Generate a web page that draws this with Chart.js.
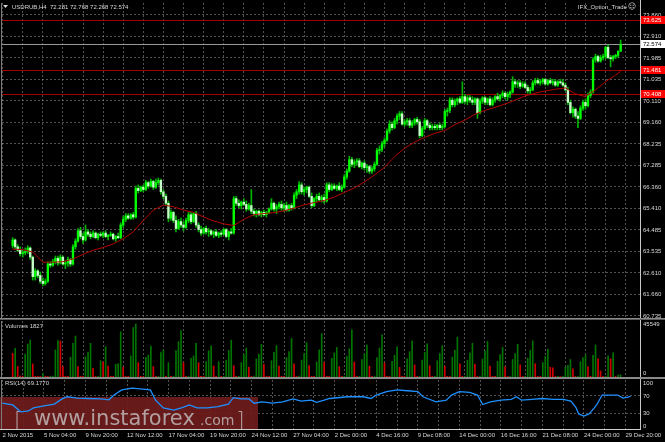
<!DOCTYPE html>
<html>
<head>
<meta charset="utf-8">
<script src="https://cdn.jsdelivr.net/npm/chart.js@4.4.1/dist/chart.umd.min.js"></script>
<style>
  html, body { margin: 0; padding: 0; background: #000; }
  #chart { position: relative; width: 665px; height: 442px; background: #000; overflow: hidden; }
  #chart canvas { position: absolute; left: 0; }
</style>
</head>
<body>
<div id="chart">
  <canvas id="priceCanvas" width="665" height="320" style="top:0px"></canvas>
  <canvas id="volCanvas" width="665" height="59" style="top:320px"></canvas>
  <canvas id="rsiCanvas" width="665" height="63" style="top:379px"></canvas>
</div>
<script>
/* --------------- Data -------------------------------------------- */
const symbol = "USDRUB,H4";
const timeLabels = ["2 Nov 2015", "5 Nov 04:00", "9 Nov 20:00", "12 Nov 12:00", "17 Nov 04:00",
  "19 Nov 20:00", "24 Nov 12:00", "27 Nov 04:00", "2 Dec 00:00", "4 Dec 16:00", "9 Dec 08:00",
  "14 Dec 00:00", "16 Dec 16:00", "21 Dec 08:00", "24 Dec 00:00", "29 Dec 20:00"];

const opens = [
  63.80, 64.05, 63.75, 63.60, 63.45, 63.50, 63.55, 63.70, 63.30, 62.45, 62.70, 62.50,
  62.25, 62.15, 62.25, 63.00, 62.95, 63.10, 63.25, 63.05, 63.30, 63.00, 63.05, 63.20,
  63.00, 63.75, 64.00, 64.45, 64.20, 64.05, 64.40, 64.30, 64.20, 64.35, 64.15, 64.30,
  64.25, 64.35, 64.20, 64.25, 64.30, 64.10, 64.20, 64.15, 64.70, 64.95, 65.10, 65.00,
  65.15, 65.05, 66.30, 66.20, 66.35, 66.25, 66.55, 66.40, 66.60, 66.35, 66.55, 66.65,
  66.15, 65.95, 65.65, 65.00, 65.25, 64.90, 64.55, 64.85, 64.70, 64.60, 64.90, 65.15,
  64.85, 65.20, 64.70, 64.50, 64.35, 64.55, 64.40, 64.45, 64.30, 64.40, 64.25, 64.35,
  64.30, 64.50, 64.20, 64.40, 64.35, 65.85, 65.65, 65.55, 65.70, 65.60, 65.40, 65.55,
  65.30, 65.20, 65.30, 65.15, 65.25, 65.15, 65.25, 65.40, 65.65, 65.40, 65.50, 65.60,
  65.45, 65.55, 65.35, 65.55, 65.45, 66.00, 66.15, 66.45, 66.15, 66.25, 66.35, 65.95,
  65.55, 65.85, 65.95, 65.80, 65.90, 65.75, 66.45, 66.25, 66.40, 66.30, 66.40, 66.25,
  66.35, 66.80, 67.05, 67.55, 67.35, 67.45, 67.50, 67.25, 67.40, 67.20, 67.25, 67.05,
  67.15, 67.35, 67.95, 68.00, 68.25, 68.40, 68.80, 69.10, 68.95, 69.25, 69.45, 69.55,
  69.10, 69.20, 69.25, 69.05, 69.15, 69.30, 69.20, 68.60, 68.90, 69.25, 69.05, 68.95,
  69.00, 68.95, 69.05, 68.95, 69.00, 69.65, 69.70, 70.15, 69.95, 70.10, 70.20, 70.05,
  70.30, 70.10, 70.25, 70.15, 70.05, 70.20, 69.60, 70.10, 70.25, 70.05, 70.20, 69.95,
  70.15, 70.30, 70.20, 70.35, 70.45, 70.30, 70.40, 70.50, 70.95, 70.85, 70.90, 70.75,
  70.85, 70.70, 70.55, 70.60, 70.90, 71.00, 70.90, 70.95, 71.05, 70.85, 71.00, 70.90,
  70.95, 70.80, 70.95, 70.90, 70.80, 70.60, 70.05, 69.60, 69.75, 69.45, 69.35, 69.80,
  70.05, 69.90, 70.35, 70.50, 71.90, 72.05, 71.85, 72.00, 72.05, 72.45, 72.00, 71.95,
  72.05, 72.10, 72.281];
const highs = [
  64.15, 64.10, 63.85, 63.75, 63.60, 63.70, 63.80, 63.75, 63.35, 62.80, 62.75, 62.65,
  62.40, 62.35, 63.10, 63.10, 63.20, 63.35, 63.35, 63.40, 63.35, 63.15, 63.30, 63.25,
  63.85, 64.10, 64.55, 64.60, 64.35, 64.70, 64.50, 64.40, 64.45, 64.40, 64.35, 64.40,
  64.40, 64.45, 64.30, 64.40, 64.35, 64.25, 64.35, 64.80, 65.10, 65.20, 65.20, 65.20,
  65.25, 66.40, 66.45, 66.40, 66.45, 66.65, 66.60, 66.70, 66.65, 66.70, 66.75, 66.70,
  66.25, 66.05, 65.75, 65.35, 65.30, 65.10, 64.95, 65.00, 64.85, 65.00, 65.25, 65.25,
  65.25, 65.30, 64.80, 64.65, 64.60, 64.65, 64.55, 64.50, 64.45, 64.50, 64.40, 64.45,
  64.55, 64.55, 64.45, 64.55, 65.95, 65.95, 65.80, 65.75, 65.85, 65.75, 65.65, 66.25,
  65.40, 65.35, 65.35, 65.30, 65.35, 65.30, 65.45, 65.85, 65.70, 65.60, 65.70, 65.75,
  65.65, 65.70, 65.60, 65.65, 66.10, 66.25, 66.60, 66.55, 66.35, 66.40, 66.40, 66.10,
  65.90, 66.05, 66.10, 66.00, 66.05, 66.55, 66.55, 66.50, 66.50, 66.45, 66.55, 66.45,
  66.90, 67.15, 67.70, 67.65, 67.55, 67.60, 67.60, 67.45, 67.50, 67.35, 67.30, 67.25,
  67.45, 68.05, 68.15, 68.35, 68.50, 68.90, 69.25, 69.20, 69.35, 69.55, 69.65, 69.65,
  69.30, 69.35, 69.35, 69.25, 69.35, 69.40, 69.30, 69.00, 69.35, 69.30, 69.15, 69.10,
  69.10, 69.10, 69.15, 69.10, 69.75, 69.80, 70.25, 70.25, 70.20, 70.25, 70.30, 70.95,
  70.40, 70.35, 70.35, 70.30, 70.25, 70.25, 70.20, 70.30, 70.30, 70.25, 70.30, 70.25,
  70.35, 70.45, 70.40, 70.55, 70.50, 70.50, 70.55, 71.17, 71.05, 71.00, 71.00, 70.95,
  70.95, 70.80, 70.70, 71.00, 71.10, 71.10, 71.05, 71.10, 71.10, 71.05, 71.10, 71.05,
  71.05, 71.00, 71.05, 71.05, 70.90, 70.70, 70.15, 69.85, 69.80, 69.65, 69.90, 70.15,
  70.20, 70.45, 70.60, 72.00, 72.15, 72.10, 72.10, 72.15, 72.50, 72.55, 72.10, 72.10,
  72.15, 72.30, 72.768];
const lows = [
  63.70, 63.65, 63.55, 63.35, 63.30, 63.40, 63.45, 63.20, 62.30, 62.30, 62.40, 62.15,
  62.05, 62.08, 62.20, 62.85, 62.90, 63.00, 62.95, 63.00, 62.95, 62.80, 62.90, 62.90,
  62.95, 63.65, 63.95, 64.10, 63.90, 64.00, 64.20, 64.10, 64.15, 64.10, 64.05, 64.20,
  64.15, 64.15, 64.05, 64.20, 64.05, 64.00, 64.10, 64.10, 64.60, 64.85, 64.95, 64.95,
  64.95, 65.00, 66.10, 66.15, 66.15, 66.20, 66.30, 66.35, 66.25, 66.30, 66.45, 66.05,
  65.85, 65.55, 64.85, 64.90, 64.80, 64.40, 64.50, 64.60, 64.45, 64.55, 64.80, 64.75,
  64.80, 64.60, 64.40, 64.25, 64.30, 64.30, 64.20, 64.25, 64.15, 64.20, 64.15, 64.20,
  64.25, 64.15, 64.05, 64.30, 64.30, 65.55, 65.45, 65.40, 65.55, 65.30, 65.35, 65.20,
  65.10, 65.05, 65.10, 65.05, 65.10, 65.05, 65.20, 65.35, 65.30, 65.20, 65.40, 65.35,
  65.30, 65.30, 65.30, 65.35, 65.40, 65.85, 66.05, 66.05, 66.00, 66.10, 65.90, 65.45,
  65.50, 65.70, 65.75, 65.70, 65.65, 65.70, 66.15, 66.20, 66.25, 66.20, 66.20, 66.15,
  66.30, 66.70, 67.00, 67.25, 67.20, 67.30, 67.20, 67.15, 67.10, 67.00, 66.95, 66.95,
  67.05, 67.30, 67.80, 67.90, 68.10, 68.35, 68.70, 68.85, 68.90, 69.10, 69.30, 69.05,
  69.00, 69.05, 68.95, 68.95, 69.05, 69.10, 68.50, 68.55, 68.85, 68.95, 68.85, 68.85,
  68.85, 68.85, 68.85, 68.85, 68.95, 69.45, 69.60, 69.85, 69.85, 69.95, 70.00, 70.00,
  70.00, 69.95, 70.05, 69.95, 69.95, 69.35, 69.55, 70.00, 69.95, 69.95, 69.90, 69.90,
  70.05, 70.15, 70.10, 70.25, 70.20, 70.15, 70.25, 70.45, 70.70, 70.70, 70.65, 70.70,
  70.65, 70.45, 70.40, 70.55, 70.80, 70.85, 70.80, 70.85, 70.80, 70.80, 70.85, 70.80,
  70.75, 70.75, 70.85, 70.75, 70.55, 69.95, 69.55, 69.40, 69.35, 68.95, 69.30, 69.70,
  69.75, 69.85, 70.25, 70.45, 71.80, 71.80, 71.80, 71.90, 71.95, 71.95, 71.60, 71.85,
  71.95, 72.00, 72.268];
const closes = [
  64.05, 63.75, 63.60, 63.45, 63.50, 63.55, 63.70, 63.30, 62.45, 62.70, 62.50, 62.25,
  62.15, 62.25, 63.00, 62.95, 63.10, 63.25, 63.05, 63.30, 63.00, 63.05, 63.20, 63.00,
  63.75, 64.00, 64.45, 64.20, 64.05, 64.40, 64.30, 64.20, 64.35, 64.15, 64.30, 64.25,
  64.35, 64.20, 64.25, 64.30, 64.10, 64.20, 64.15, 64.70, 64.95, 65.10, 65.00, 65.15,
  65.05, 66.30, 66.20, 66.35, 66.25, 66.55, 66.40, 66.60, 66.35, 66.55, 66.65, 66.15,
  65.95, 65.65, 65.00, 65.25, 64.90, 64.55, 64.85, 64.70, 64.60, 64.90, 65.15, 64.85,
  65.20, 64.70, 64.50, 64.35, 64.55, 64.40, 64.45, 64.30, 64.40, 64.25, 64.35, 64.30,
  64.50, 64.20, 64.40, 64.35, 65.85, 65.65, 65.55, 65.70, 65.60, 65.40, 65.55, 65.30,
  65.20, 65.30, 65.15, 65.25, 65.15, 65.25, 65.40, 65.65, 65.40, 65.50, 65.60, 65.45,
  65.55, 65.35, 65.55, 65.45, 66.00, 66.15, 66.45, 66.15, 66.25, 66.35, 65.95, 65.55,
  65.85, 65.95, 65.80, 65.90, 65.75, 66.45, 66.25, 66.40, 66.30, 66.40, 66.25, 66.35,
  66.80, 67.05, 67.55, 67.35, 67.45, 67.50, 67.25, 67.40, 67.20, 67.25, 67.05, 67.15,
  67.35, 67.95, 68.00, 68.25, 68.40, 68.80, 69.10, 68.95, 69.25, 69.45, 69.55, 69.10,
  69.20, 69.25, 69.05, 69.15, 69.30, 69.20, 68.60, 68.90, 69.25, 69.05, 68.95, 69.00,
  68.95, 69.05, 68.95, 69.00, 69.65, 69.70, 70.15, 69.95, 70.10, 70.20, 70.05, 70.30,
  70.10, 70.25, 70.15, 70.05, 70.20, 69.60, 70.10, 70.25, 70.05, 70.20, 69.95, 70.15,
  70.30, 70.20, 70.35, 70.45, 70.30, 70.40, 70.50, 70.95, 70.85, 70.90, 70.75, 70.85,
  70.70, 70.55, 70.60, 70.90, 71.00, 70.90, 70.95, 71.05, 70.85, 71.00, 70.90, 70.95,
  70.80, 70.95, 70.90, 70.80, 70.60, 70.05, 69.60, 69.75, 69.45, 69.35, 69.80, 70.05,
  69.90, 70.35, 70.50, 71.90, 72.05, 71.85, 72.00, 72.05, 72.45, 72.00, 71.95, 72.05,
  72.10, 72.28, 72.574];

const volumes = [
  19600, 23700, 8600, 900, 700, 19000, 27300, 30600, 10800, 600, 500, 400,
  3000, 700, 500, 600, 800, 22400, 30100, 29800, 8600, 600, 500, 16300,
  27900, 34000, 8600, 700, 600, 16800, 20700, 27900, 7200, 500, 600, 13500,
  12400, 25100, 9100, 600, 500, 10500, 11000, 37500, 8000, 600, 500, 17400,
  40900, 43900, 11900, 600, 500, 16300, 18200, 25700, 8600, 500, 600, 20200,
  22400, 600, 11900, 500, 700, 21800, 29300, 38400, 11900, 500, 600, 15500,
  17400, 27900, 11900, 600, 500, 12700, 21800, 25900, 9100, 600, 12700, 500,
  600, 14000, 22000, 30500, 9500, 500, 600, 12000, 18500, 24000, 8000, 500,
  700, 15000, 19000, 27000, 10500, 600, 500, 13500, 20500, 26000, 9000, 600,
  500, 16000, 21000, 32000, 11000, 500, 700, 14000, 19500, 28500, 9500, 600,
  500, 12500, 22500, 36000, 12000, 600, 500, 15500, 20000, 24500, 8500, 500,
  600, 17000, 23500, 39000, 12500, 500, 600, 14500, 19000, 26500, 9000, 500,
  700, 16000, 24000, 35000, 11500, 600, 500, 13000, 18000, 25000, 8000, 600,
  500, 15000, 21000, 30000, 10000, 500, 600, 14000, 20500, 27500, 9500, 500,
  600, 13500, 19500, 26000, 9000, 600, 500, 16500, 22000, 33000, 11000, 500,
  600, 14000, 20000, 28000, 10500, 500, 700, 15000, 21500, 29500, 9000, 600,
  500, 13000, 18500, 24500, 8500, 500, 600, 14500, 19500, 27000, 10000, 500,
  600, 15500, 22000, 30000, 11000, 600, 500, 12000, 17000, 23000, 8000, 7500,
  500, 600, 400, 500, 8000, 9700, 14500, 6800, 500, 600, 12700, 16000,
  18000, 8500, 600, 18000, 26500, 15000, 5000, 500, 600, 17500, 15000, 20000,
  600, 1500, 1827];

const maBars = [0, 4, 8, 12, 16, 20, 24, 28, 32, 36, 40, 44, 48, 52, 56, 60, 64, 68, 72, 76,
  80, 84, 88, 92, 96, 100, 104, 108, 112, 116, 120, 124, 128, 132, 136, 140, 144, 148, 152,
  156, 160, 164, 168, 172, 176, 180, 184, 188, 192, 196, 200, 204, 208, 212, 216, 220, 224,
  228, 232, 236, 240, 242];
const maValues = [63.65, 63.63, 63.52, 63.08, 63.08, 63.10, 63.22, 63.42, 63.60, 63.72, 63.88,
  64.10, 64.40, 64.90, 65.35, 65.57, 65.50, 65.35, 65.25, 65.05, 64.88, 64.75, 64.68, 64.95,
  65.15, 65.20, 65.24, 65.32, 65.44, 65.58, 65.68, 65.77, 65.92, 66.12, 66.32, 66.58, 66.88,
  67.22, 67.68, 68.05, 68.32, 68.52, 68.70, 68.82, 69.08, 69.28, 69.53, 69.70, 69.83, 69.98,
  70.15, 70.33, 70.45, 70.55, 70.62, 70.68, 70.42, 70.30, 70.60, 70.95, 71.24, 71.40];

const rsiBars = [0, 4, 7, 10, 12, 16, 20, 23, 25, 29, 33, 38, 41, 43, 46, 50, 54, 57, 59, 62,
  66, 69, 72, 75, 79, 83, 87, 89, 92, 95, 97, 100, 104, 108, 112, 115, 119, 121, 124, 126,
  133, 139, 142, 144, 148, 152, 156, 160, 162, 167, 171, 173, 176, 180, 183, 185, 188, 192,
  196, 198, 200, 204, 208, 212, 216, 219, 221, 222, 224, 226, 228, 229, 231, 234, 237, 239,
  241, 242];
const rsiValues = [53, 49, 33, 35, 42, 47, 51, 63, 68, 65, 64, 63, 61, 72, 84, 88, 86, 84, 60,
  42, 37, 42, 49, 42, 42, 45, 51, 66, 63, 63, 53, 56, 53, 56, 63, 58, 60, 55, 60, 64, 68, 68,
  64, 72, 80, 84, 82, 80, 68, 56, 60, 72, 80, 78, 72, 50, 56, 60, 62, 68, 60, 62, 64, 62, 62,
  58, 42, 28, 23, 28, 42, 50, 72, 72, 72, 65, 67, 69.177];

const priceTicks = [60.735, 61.660, 62.610, 63.535, 64.485, 65.410, 66.360, 67.285, 68.235,
  69.160, 70.110, 71.035, 71.985, 72.910, 73.860];
const levelLines = [73.625, 71.481, 70.408];
const volumeScaleMax = 45549;
const rsiTicks = [0, 30, 70, 100];
const rsiLevels = [30, 70];

/* --------------- Look --------------------- */
const TXT = "#d8d8d8";
const GRID = "rgba(150,150,150,0.55)";
const FONT = { family: "'Liberation Sans', Arial, sans-serif", size: 6 };
const FONT_CSS = "6px 'Liberation Sans', Arial, sans-serif";
const CANDLE = "#00ff00";
const WICK = "#00b400";
const BEAR_BODY = "#c8ffc8";
const MA_RED = "#b40000";
const LEVEL_RED = "#a00000";
const X_MIN = -0.15, X_MAX = 245.6;

const barIndex = closes.map((_, i) => i);
const gridBars = [];
for (let b = 0; b <= 240; b += 8) gridBars.push(b);

const xAxis = (showLabels) => ({
  type: "linear",
  min: X_MIN,
  max: X_MAX,
  position: "bottom",
  afterBuildTicks: (s) => { s.ticks = gridBars.map((v) => ({ value: v })); },
  afterFit: (s) => { s.height = showLabels ? 13 : 0; s.paddingLeft = 0; s.paddingRight = 0; },
  grid: { color: GRID, lineWidth: 1, drawTicks: false },
  border: { display: false, dash: [2, 2] },
  ticks: {
    display: showLabels, autoSkip: false, maxRotation: 0, align: "start", padding: 3,
    color: TXT, font: FONT,
    callback: (v) => (v % 16 === 0 ? timeLabels[v / 16] : ""),
  },
});

const drawFrame = (ctx, a, topLine, bottomLine) => {
  ctx.save();
  ctx.lineWidth = 1;
  ctx.strokeStyle = "#7a7a7a";
  ctx.beginPath();
  ctx.moveTo(1.5, a.top); ctx.lineTo(1.5, a.bottom);
  ctx.stroke();
  ctx.strokeStyle = "#c8c8c8";
  ctx.beginPath();
  ctx.moveTo(a.right + 0.5, topLine); ctx.lineTo(a.right + 0.5, bottomLine);
  ctx.stroke();
  ctx.restore();
};

/* --------------- Price Chart --------------------- */
const priceOverlay = {
  id: "priceOverlay",
  beforeDatasetsDraw(chart) {
    const { ctx, chartArea: a, scales: { y } } = chart;
    ctx.save();
    ctx.lineWidth = 1;
    ctx.strokeStyle = LEVEL_RED;
    levelLines.forEach((v) => {
      const py = Math.round(y.getPixelForValue(v)) + 0.5;
      ctx.beginPath(); ctx.moveTo(a.left, py); ctx.lineTo(a.right, py); ctx.stroke();
    });
    const by = Math.round(y.getPixelForValue(closes[closes.length - 1])) + 0.5;
    ctx.strokeStyle = "#9a9a9a";
    ctx.beginPath(); ctx.moveTo(a.left, by); ctx.lineTo(a.right, by); ctx.stroke();
    ctx.restore();
  },
  afterDraw(chart) {
    const { ctx, chartArea: a, scales: { y } } = chart;
    const last = closes.length - 1;
    ctx.save();
    ctx.font = FONT_CSS;
    ctx.textBaseline = "middle";
    levelLines.forEach((v) => {
      const py = Math.round(y.getPixelForValue(v));
      ctx.fillStyle = "#ff0000";
      ctx.fillRect(a.right + 1, py - 4, 24, 8);
      ctx.fillStyle = "#ffffff";
      ctx.fillText(v.toFixed(3), a.right + 3, py);
    });
    const by = Math.round(y.getPixelForValue(closes[last]));
    ctx.fillStyle = "#ffffff";
    ctx.fillRect(a.right + 1, by - 4, 24, 8);
    ctx.fillStyle = "#000000";
    ctx.fillText(closes[last].toFixed(3), a.right + 3, by);

    // header
    ctx.fillStyle = TXT;
    ctx.beginPath();
    ctx.moveTo(3, 5); ctx.lineTo(8, 5); ctx.lineTo(5.5, 8); ctx.closePath();
    ctx.fill();
    ctx.fillText(symbol + "  " + [opens[last], highs[last], lows[last], closes[last]]
      .map((v) => v.toFixed(3)).join(" "), 12, 7);
    ctx.textAlign = "right";
    ctx.fillText("IFX_Option_Trade", 627, 7);
    ctx.font = "8px 'DejaVu Sans'";
    ctx.textAlign = "left";
    ctx.fillText("\u263A", 628, 7);
    ctx.restore();

    drawFrame(ctx, a, 0, 320);
    ctx.save();
    ctx.fillStyle = "#8a8a8a";
    ctx.fillRect(0, 318, 665, 1);
    ctx.fillStyle = "#5a5a5a";
    ctx.fillRect(0, 319, 665, 1);
    ctx.restore();
  },
};

new Chart(document.getElementById("priceCanvas"), {
  type: "bar",
  plugins: [priceOverlay],
  data: {
    datasets: [
      {
        label: "wick",
        data: barIndex.map((i) => ({ x: i, y: [lows[i], highs[i]] })),
        backgroundColor: WICK,
        barThickness: 1,
        grouped: false,
        order: 3,
      },
      {
        label: "body",
        data: barIndex.map((i) => ({ x: i, y: [opens[i], closes[i]] })),
        backgroundColor: barIndex.map((i) => (closes[i] >= opens[i] ? CANDLE : BEAR_BODY)),
        barThickness: 1.7,
        minBarLength: 1,
        grouped: false,
        order: 2,
      },
      {
        type: "line",
        label: "MA",
        data: maBars.map((b, k) => ({ x: b, y: maValues[k] })),
        borderColor: MA_RED,
        borderWidth: 1,
        pointRadius: 0,
        tension: 0,
        order: 1,
      },
    ],
  },
  options: {
    responsive: false,
    animation: false,
    layout: { padding: { left: 2, top: 3, right: 0, bottom: 2 } },
    plugins: { legend: { display: false }, tooltip: { enabled: false } },
    scales: {
      x: xAxis(false),
      y: {
        position: "right",
        min: 60.646,
        max: 74.383,
        afterBuildTicks: (s) => { s.ticks = priceTicks.map((v) => ({ value: v })); },
        afterFit: (s) => { s.width = 25; s.paddingTop = 0; s.paddingBottom = 0; },
        grid: { color: GRID, lineWidth: 1, drawTicks: false },
        border: { display: false, dash: [2, 2] },
        ticks: { autoSkip: false, padding: 3, color: TXT, font: FONT, callback: (v) => v.toFixed(3) },
      },
    },
  },
});

/* --------------- Volumes --------------------- */
const volOverlay = {
  id: "volOverlay",
  afterDraw(chart) {
    const { ctx, chartArea: a, scales: { y } } = chart;
    ctx.save();
    ctx.font = FONT_CSS;
    ctx.fillStyle = TXT;
    ctx.textBaseline = "middle";
    ctx.fillText("Volumes " + volumes[volumes.length - 1], 5, 6);
    ctx.fillText(String(volumeScaleMax), a.right + 3, y.getPixelForValue(volumeScaleMax) + 2);
    ctx.fillText("0", a.right + 3, y.getPixelForValue(0) - 4);
    ctx.restore();
    drawFrame(ctx, a, 0, 59);
    ctx.save();
    ctx.fillStyle = "#8a8a8a";
    ctx.fillRect(0, 57, 665, 2);
    ctx.restore();
  },
};

new Chart(document.getElementById("volCanvas"), {
  type: "bar",
  plugins: [volOverlay],
  data: {
    datasets: [
      {
        label: "Volumes",
        data: volumes.map((v, i) => ({ x: i, y: v })),
        backgroundColor: volumes.map((v, i) => (i > 0 && v > volumes[i - 1] ? "#007400" : "#d40000")),
        barThickness: 1,
      },
    ],
  },
  options: {
    responsive: false,
    animation: false,
    layout: { padding: { left: 2, top: 1, right: 0, bottom: 2 } },
    plugins: { legend: { display: false }, tooltip: { enabled: false } },
    scales: {
      x: xAxis(false),
      y: {
        position: "right",
        min: 0,
        max: 46400,
        afterBuildTicks: (s) => { s.ticks = []; },
        afterFit: (s) => { s.width = 25; s.paddingTop = 0; s.paddingBottom = 0; },
        grid: { display: false },
        border: { display: false },
        ticks: { display: false },
      },
    },
  },
});

/* --------------- RSI --------------------- */
const rsiOverlay = {
  id: "rsiOverlay",
  beforeDatasetsDraw(chart) {
    const { ctx } = chart;
    ctx.save();
    ctx.fillStyle = "rgba(112,28,28,0.92)";
    ctx.fillRect(0, 18, 258, 33);
    ctx.fillStyle = "rgba(190,182,182,0.85)";
    ctx.textBaseline = "alphabetic";
    ctx.font = "200 22px 'DejaVu Sans', sans-serif";
    ctx.fillText("[", 14, 48);
    ctx.fillText("]", 236, 48);
    ctx.font = "21px 'DejaVu Sans', sans-serif";
    ctx.fillText("www.instaforex", 34, 46);
    ctx.font = "14px 'DejaVu Sans', sans-serif";
    ctx.fillText(".com", 200, 46);
    ctx.restore();
  },
  afterDraw(chart) {
    const { ctx, chartArea: a } = chart;
    ctx.save();
    ctx.font = FONT_CSS;
    ctx.fillStyle = TXT;
    ctx.textBaseline = "middle";
    ctx.fillText("RSI(14) " + rsiValues[rsiValues.length - 1].toFixed(4), 5, 4);
    ctx.fillStyle = "#d0d0d0";
    ctx.fillRect(0, a.bottom, a.right + 1, 1);
    ctx.restore();
    drawFrame(ctx, a, 0, a.bottom);
  },
};

new Chart(document.getElementById("rsiCanvas"), {
  type: "line",
  plugins: [rsiOverlay],
  data: {
    datasets: [
      {
        label: "RSI(14)",
        data: rsiBars.map((b, k) => ({ x: b, y: rsiValues[k] })),
        borderColor: "#1e90ff",
        borderWidth: 1.3,
        pointRadius: 0,
        tension: 0,
      },
    ],
  },
  options: {
    responsive: false,
    animation: false,
    layout: { padding: { left: 2, top: 1, right: 0, bottom: 0 } },
    plugins: { legend: { display: false }, tooltip: { enabled: false } },
    scales: {
      x: xAxis(true),
      y: {
        position: "right",
        min: -7,
        max: 107,
        afterBuildTicks: (s) => { s.ticks = rsiTicks.map((v) => ({ value: v })); },
        afterFit: (s) => { s.width = 25; s.paddingTop = 0; s.paddingBottom = 0; },
        grid: {
          color: (c) => (rsiLevels.includes(c.tick && c.tick.value) ? GRID : "rgba(0,0,0,0)"),
          lineWidth: 1,
          drawTicks: false,
        },
        border: { display: false, dash: [2, 2] },
        ticks: { autoSkip: false, padding: 3, color: TXT, font: FONT },
      },
    },
  },
});
</script>
</body>
</html>
